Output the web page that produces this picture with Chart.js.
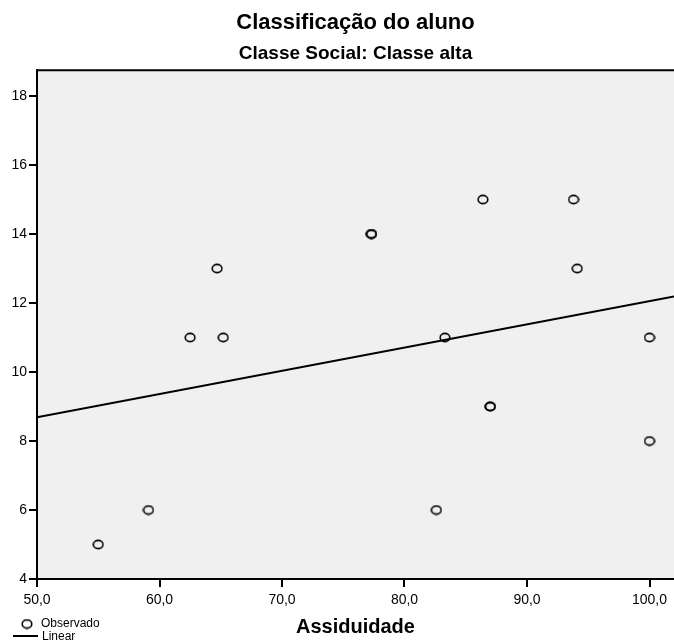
<!DOCTYPE html>
<html>
<head>
<meta charset="utf-8">
<title>Classificação do aluno</title>
<script src="https://cdn.jsdelivr.net/npm/chart.js@4.4.1/dist/chart.umd.min.js"></script>
<style>
  html, body { margin: 0; padding: 0; background: #fff; }
  #wrap { width: 674px; height: 642px; }
</style>
</head>
<body>
<div id="wrap"><canvas id="chart" width="674" height="642"></canvas></div>
<script>
const assiduidade = [55.0, 59.1, 62.5, 64.7, 65.2, 77.3, 77.3, 82.6, 83.3, 86.4, 87.0, 87.0, 93.8, 94.1, 100.0, 100.0];
const classificacao = [5, 6, 11, 13, 11, 14, 14, 6, 11, 15, 9, 9, 15, 13, 11, 8];
const xTicks = [50, 60, 70, 80, 90, 100];
const yTicks = [4, 6, 8, 10, 12, 14, 16, 18];
const xRange = [50, 102];
const yRange = [4, 18.75];

// least squares fit for the "Linear" line
function linearFit(xs, ys) {
  const n = xs.length;
  const mx = xs.reduce((a, b) => a + b, 0) / n;
  const my = ys.reduce((a, b) => a + b, 0) / n;
  let sxy = 0, sxx = 0;
  for (let i = 0; i < n; i++) {
    sxy += (xs[i] - mx) * (ys[i] - my);
    sxx += (xs[i] - mx) * (xs[i] - mx);
  }
  const b = sxy / sxx;
  return { a: my - b * mx, b: b };
}
const fit = linearFit(assiduidade, classificacao);

// little open ellipse used as marker
function ellipseMarker() {
  const c = document.createElement("canvas");
  c.width = 12;
  c.height = 11;
  const g = c.getContext("2d");
  g.beginPath();
  g.ellipse(6, 5.5, 4.8, 4.1, 0, 0, Math.PI * 2);
  g.lineWidth = 1.6;
  g.strokeStyle = "#000";
  g.stroke();
  return c;
}
const marker = ellipseMarker();

const fontFamily = "'Liberation Sans', Arial, sans-serif";
Chart.defaults.font.family = fontFamily;
Chart.defaults.color = "#000";

const plotBox = {
  id: "plotBox",
  beforeDraw(chart) {
    const a = chart.chartArea;
    const ctx = chart.ctx;
    ctx.save();
    ctx.fillStyle = "#f0f0f0";
    ctx.fillRect(a.left, a.top, a.right - a.left, a.bottom - a.top);
    ctx.restore();
  },
  afterDraw(chart) {
    const a = chart.chartArea;
    const ctx = chart.ctx;
    ctx.save();
    ctx.strokeStyle = "#000";
    ctx.lineWidth = 2;
    ctx.beginPath();
    ctx.moveTo(a.left - 1, a.top);
    ctx.lineTo(a.right, a.top);
    ctx.stroke();

    // legend, bottom left
    ctx.font = "12px " + fontFamily;
    ctx.textBaseline = "middle";
    ctx.fillStyle = "#000";
    ctx.drawImage(marker, 21, 618.5);
    ctx.fillText("Observado", 41, 624);
    ctx.beginPath();
    ctx.moveTo(13, 636);
    ctx.lineTo(38, 636);
    ctx.lineWidth = 2;
    ctx.stroke();
    ctx.fillText("Linear", 42, 636.5);
    ctx.restore();
  }
};

const points = assiduidade.map((x, i) => ({ x: x, y: classificacao[i] }));
const fitLine = xRange.map(x => ({ x: x, y: fit.a + fit.b * x }));

new Chart(document.getElementById("chart"), {
  type: "scatter",
  data: {
    datasets: [
      {
        label: "Observado",
        data: points,
        pointStyle: marker,
        pointRadius: 5,
        pointHoverRadius: 5
      },
      {
        type: "line",
        label: "Linear",
        data: fitLine,
        borderColor: "#000",
        borderWidth: 2,
        pointRadius: 0,
        fill: false
      }
    ]
  },
  options: {
    responsive: false,
    animation: false,
    layout: { padding: 0, autoPadding: false },
    plugins: {
      legend: { display: false },
      tooltip: { enabled: false },
      title: {
        display: true,
        fullSize: false,
        text: "Classificação do aluno",
        font: { size: 22, weight: "bold" },
        padding: { top: 10, bottom: 6 }
      },
      subtitle: {
        display: true,
        fullSize: false,
        text: "Classe Social: Classe alta",
        font: { size: 19, weight: "bold" },
        padding: { top: 0, bottom: 5 }
      }
    },
    scales: {
      x: {
        type: "linear",
        min: xRange[0],
        max: xRange[1],
        afterBuildTicks(s) { s.ticks = xTicks.map(v => ({ value: v })); },
        afterFit(s) { s.height = 63; s.paddingRight = 0; s.paddingLeft = 0; },
        grid: { drawOnChartArea: false, drawTicks: true, tickLength: 8, color: "#000", lineWidth: 2 },
        border: { display: true, color: "#000", width: 2 },
        ticks: {
          padding: 5,
          maxRotation: 0,
          font: { size: 14 },
          callback: v => v.toFixed(1).replace(".", ",")
        },
        title: {
          display: true,
          text: "Assiduidade",
          font: { size: 20, weight: "bold" },
          padding: { top: 0, bottom: 3 }
        }
      },
      y: {
        type: "linear",
        min: yRange[0],
        max: yRange[1],
        afterBuildTicks(s) { s.ticks = yTicks.map(v => ({ value: v })); },
        afterFit(s) { s.width = 37; },
        grid: { drawOnChartArea: false, drawTicks: true, tickLength: 8, color: "#000", lineWidth: 2 },
        border: { display: true, color: "#000", width: 2 },
        ticks: { padding: 2, font: { size: 14 } }
      }
    }
  },
  plugins: [plotBox]
});
</script>
</body>
</html>
